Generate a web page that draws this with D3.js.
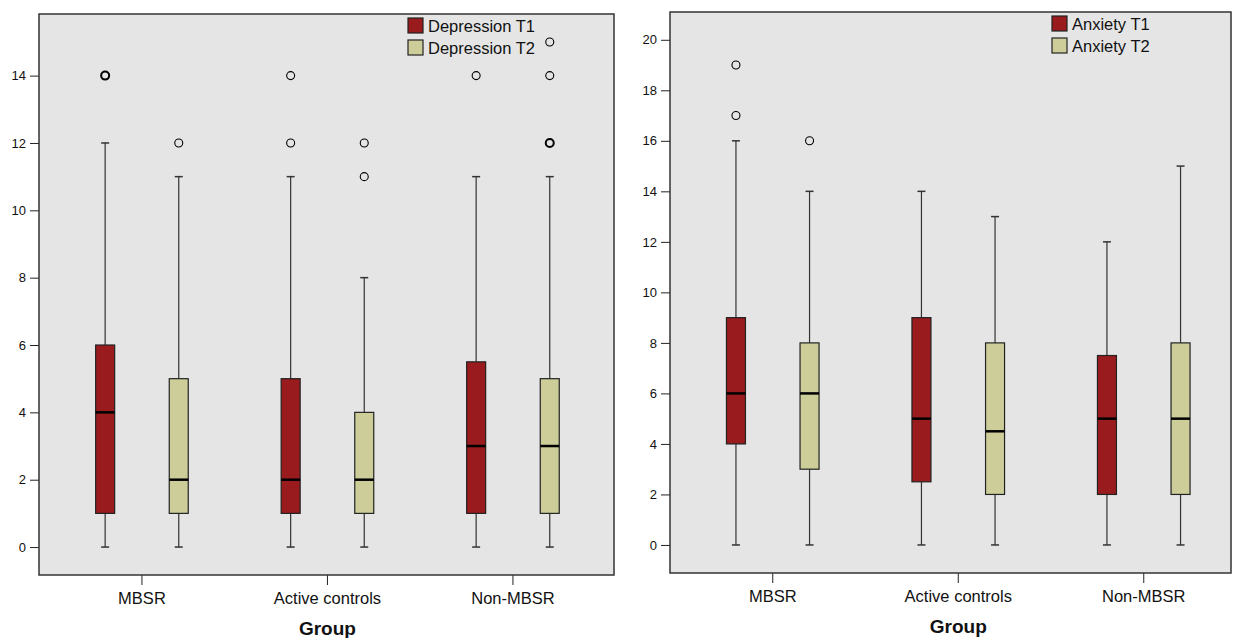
<!DOCTYPE html>
<html>
<head>
<meta charset="utf-8">
<script src="https://cdn.jsdelivr.net/npm/d3@7"></script>
<style>
  body { margin: 0; background: #fff; }
  svg { display: block; font-family: "Liberation Sans", Arial, sans-serif; }
</style>
</head>
<body>
<svg id="chart" width="1235" height="638"></svg>
<script>
// categories and series
var groups = ["MBSR", "Active controls", "Non-MBSR"];
var depTicks = [0, 2, 4, 6, 8, 10, 12, 14];
var anxTicks = [0, 2, 4, 6, 8, 10, 12, 14, 16, 18, 20];

// [min, q1, median, q3, max] per group
var depT1 = [[0, 1, 4, 6, 12], [0, 1, 2, 5, 11], [0, 1, 3, 5.5, 11]];
var depT2 = [[0, 1, 2, 5, 11], [0, 1, 2, 4, 8], [0, 1, 3, 5, 11]];
var depT1Out = [[14, 14], [12, 14], [14]];
var depT2Out = [[12], [11, 12], [12, 12, 14, 15]];

var anxT1 = [[0, 4, 6, 9, 16], [0, 2.5, 5, 9, 14], [0, 2, 5, 7.5, 12]];
var anxT2 = [[0, 3, 6, 8, 14], [0, 2, 4.5, 8, 13], [0, 2, 5, 8, 15]];
var anxT1Out = [[17, 19], [], []];
var anxT2Out = [[16], [], []];

var c1 = "#991b1e", c2 = "#cdcd9a";

var svg = d3.select("#chart");

function panel(opt) {
  var g = svg.append("g");
  var x = d3.scaleBand().domain(groups).range(opt.band);
  var y = d3.scaleLinear().domain(opt.domain).range([opt.bottom, opt.top]);

  g.append("rect")
    .attr("x", opt.left).attr("y", opt.top)
    .attr("width", opt.right - opt.left).attr("height", opt.bottom - opt.top)
    .attr("fill", "#e5e5e5");

  // y axis
  var ya = g.append("g").attr("transform", "translate(" + opt.left + ",0)")
    .call(d3.axisLeft(y).tickValues(opt.ticks).tickSize(9).tickPadding(4));
  ya.select(".domain").remove();
  ya.selectAll("line").attr("stroke", "#222");
  ya.selectAll("text").attr("font-size", 13).attr("fill", "#111")
    .attr("font-family", "Liberation Sans, Arial, sans-serif");

  // x axis
  var xa = g.append("g").attr("transform", "translate(0," + opt.bottom + ")")
    .call(d3.axisBottom(x).tickSize(10).tickPadding(7));
  xa.select(".domain").remove();
  xa.selectAll("line").attr("stroke", "#222");
  xa.selectAll("text").attr("font-size", 16.5).attr("fill", "#111")
    .attr("font-family", "Liberation Sans, Arial, sans-serif");

  g.append("text")
    .attr("x", x(groups[1]) + x.bandwidth() / 2).attr("y", opt.bottom + 60)
    .attr("text-anchor", "middle").attr("font-size", 19).attr("font-weight", "bold")
    .attr("fill", "#111").text("Group");

  var off = 36.8, bw = 19, cap = 8;
  var series = [
    {stats: opt.s1, out: opt.o1, color: c1, dx: -off},
    {stats: opt.s2, out: opt.o2, color: c2, dx: off}
  ];
  series.forEach(function(s) {
    groups.forEach(function(grp, i) {
      var cx = x(grp) + x.bandwidth() / 2 + s.dx;
      var st = s.stats[i];
      var b = g.append("g");
      b.append("line").attr("x1", cx).attr("x2", cx)
        .attr("y1", y(st[0])).attr("y2", y(st[1])).attr("stroke", "#333").attr("stroke-width", 1.2);
      b.append("line").attr("x1", cx).attr("x2", cx)
        .attr("y1", y(st[3])).attr("y2", y(st[4])).attr("stroke", "#333").attr("stroke-width", 1.2);
      [st[0], st[4]].forEach(function(v) {
        b.append("line").attr("x1", cx - cap / 2).attr("x2", cx + cap / 2)
          .attr("y1", y(v)).attr("y2", y(v)).attr("stroke", "#333").attr("stroke-width", 1.5);
      });
      b.append("rect").attr("x", cx - bw / 2).attr("y", y(st[3]))
        .attr("width", bw).attr("height", y(st[1]) - y(st[3]))
        .attr("fill", s.color).attr("stroke", "#222").attr("stroke-width", 1.2);
      b.append("line").attr("x1", cx - bw / 2).attr("x2", cx + bw / 2)
        .attr("y1", y(st[2])).attr("y2", y(st[2])).attr("stroke", "#000").attr("stroke-width", 2.5);
      // outliers; repeated values drawn heavier
      var counts = d3.rollup(s.out[i], function(v) { return v.length; }, function(d) { return d; });
      counts.forEach(function(n, v) {
        b.append("circle").attr("cx", cx).attr("cy", y(v)).attr("r", 4)
          .attr("fill", "none").attr("stroke", "#000").attr("stroke-width", n > 1 ? 2 : 1.1);
      });
    });
  });

  g.append("rect")
    .attr("x", opt.left).attr("y", opt.top)
    .attr("width", opt.right - opt.left).attr("height", opt.bottom - opt.top)
    .attr("fill", "none").attr("stroke", "#333").attr("stroke-width", 1.5);

  // legend
  var lg = g.append("g");
  opt.names.forEach(function(nm, i) {
    var yy = opt.legY + i * 22;
    lg.append("rect").attr("x", opt.legX).attr("y", yy).attr("width", 15).attr("height", 15)
      .attr("fill", i === 0 ? c1 : c2).attr("stroke", "#222").attr("stroke-width", 1.2);
    lg.append("text").attr("x", opt.legX + 20).attr("y", yy + 14)
      .attr("font-size", 16.5).attr("fill", "#111").text(nm);
  });
}

panel({
  left: 39, right: 614, top: 14, bottom: 575, band: [49.2, 605.7],
  domain: [-0.83, 15.83], ticks: depTicks,
  s1: depT1, s2: depT2, o1: depT1Out, o2: depT2Out,
  names: ["Depression T1", "Depression T2"], legX: 408, legY: 18
});
panel({
  left: 670, right: 1231, top: 12, bottom: 573, band: [680, 1236.5],
  domain: [-1.11, 21.1], ticks: anxTicks,
  s1: anxT1, s2: anxT2, o1: anxT1Out, o2: anxT2Out,
  names: ["Anxiety T1", "Anxiety T2"], legX: 1052, legY: 16
});
</script>
</body>
</html>
